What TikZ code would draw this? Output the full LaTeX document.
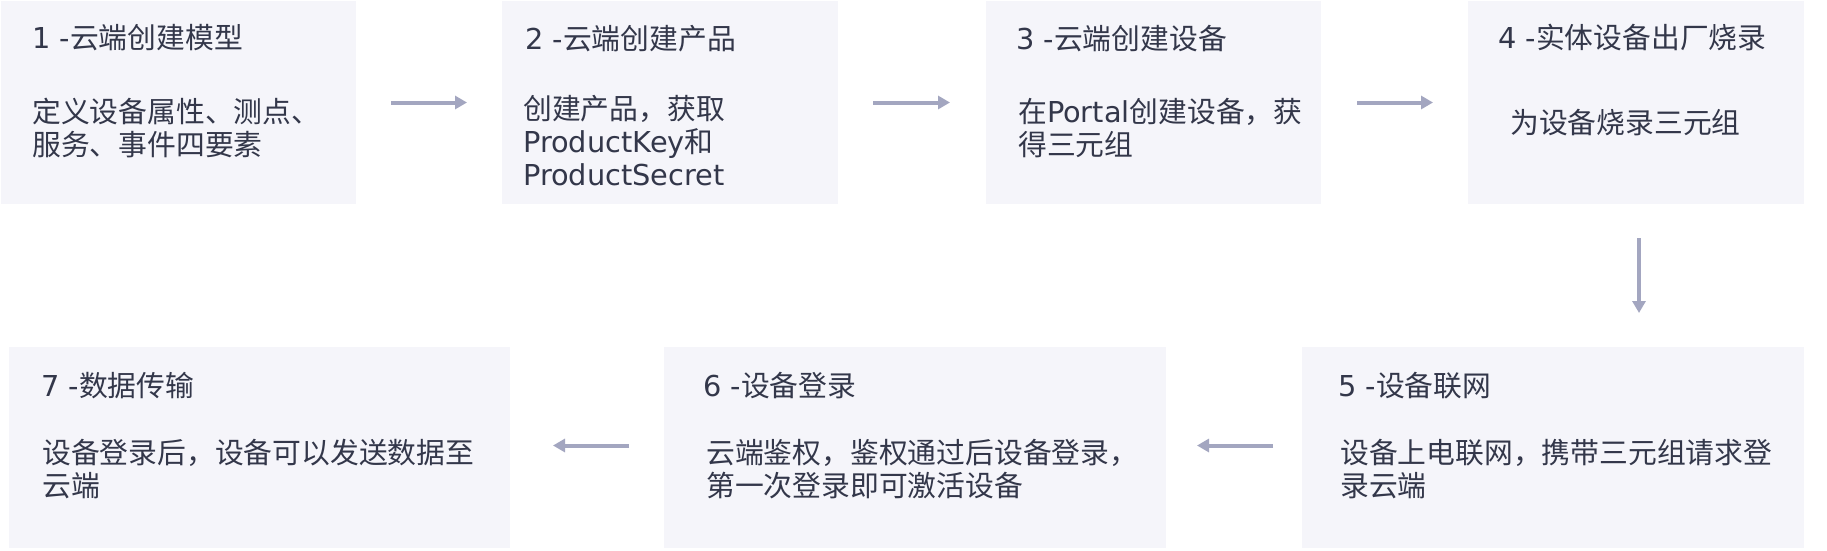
\documentclass[tikz,border=0pt]{standalone}
\usepackage{fontspec}
\setmainfont{Noto Sans CJK SC}
\newfontfamily\lat{DejaVu Sans}
\usetikzlibrary{arrows.meta}
\definecolor{boxfill}{HTML}{F5F5FA}
\definecolor{txtcol}{HTML}{33374A}
\definecolor{arrcol}{HTML}{A3A6C0}
\newcommand{\fstrut}{\rule{0pt}{26pt}}
\tikzset{
  stepbox/.style={fill=boxfill, draw=none, anchor=north west, inner sep=0pt, outer sep=0pt},
  ttl/.style={anchor=base west, inner sep=0pt, text=txtcol, font=\fontsize{28.8}{33}\selectfont},
  bodytxt/.style={anchor=north west, inner sep=0pt, align=left, text=txtcol, font=\fontsize{28.8}{33}\selectfont},
  flow/.style={draw=arrcol, line width=4pt, -{Triangle[length=12pt,width=13pt]}},
}
\begin{document}
\begin{tikzpicture}[x=1pt,y=-1pt]
\useasboundingbox[fill=white] (0,0) rectangle (1827,550);
% boxes
\node[stepbox, minimum width=355pt, minimum height=203pt] (b1) at (1,1) {};
\node[stepbox, minimum width=336pt, minimum height=203pt] (b2) at (502,1) {};
\node[stepbox, minimum width=335pt, minimum height=203pt] (b3) at (986,1) {};
\node[stepbox, minimum width=336pt, minimum height=203pt] (b4) at (1468,1) {};
\node[stepbox, minimum width=502pt, minimum height=201pt] (b5) at (1302,347) {};
\node[stepbox, minimum width=502pt, minimum height=201pt] (b6) at (664,347) {};
\node[stepbox, minimum width=501pt, minimum height=201pt] (b7) at (9,347) {};
% titles
\node[ttl] (t1) at (32,48) {{\lat 1 -}云端创建模型};
\node[ttl] (t2) at (525,49) {{\lat 2 -}云端创建产品};
\node[ttl] (t3) at (1016,49) {{\lat 3 -}云端创建设备};
\node[ttl] (t4) at (1498,48) {{\lat 4 -}实体设备出厂烧录};
\node[ttl] (t5) at (1338,396) {{\lat 5 -}设备联网};
\node[ttl] (t6) at (703,396) {{\lat 6 -}设备登录};
\node[ttl] (t7) at (41,396) {{\lat 7 -}数据传输};
% bodies
\node[bodytxt] (d1) at (32,96.5) {\fstrut 定义设备属性、测点、\\服务、事件四要素};
\node[bodytxt] (d2) at (523,93) {\fstrut 创建产品，获取\\{\lat ProductKey}和\\{\lat ProductSecret}};
\node[bodytxt] (d3) at (1018,96.5) {\fstrut 在{\lat Portal}创建设备，获\\得三元组};
\node[bodytxt] (d4) at (1510,107) {\fstrut 为设备烧录三元组};
\node[bodytxt] (d5) at (1340,437.5) {\fstrut 设备上电联网，携带三元组请求登\\录云端};
\node[bodytxt] (d6) at (706,437.5) {\fstrut 云端鉴权，鉴权通过后设备登录，\\第一次登录即可激活设备};
\node[bodytxt] (d7) at (42,437.5) {\fstrut 设备登录后，设备可以发送数据至\\云端};
% connectors
\draw[flow, shorten <=35pt, shorten >=35pt] (b1.east) -- (b2.west);
\draw[flow, shorten <=35pt, shorten >=36pt] (b2.east) -- (b3.west);
\draw[flow, shorten <=36pt, shorten >=35pt] (b3.east) -- (b4.west);
\draw[flow, shorten <=34pt, shorten >=34pt] ([xshift=3pt]b4.south) -- ([xshift=86pt]b5.north);
\draw[flow, shorten <=29pt, shorten >=31pt] ([yshift=2pt]b5.west) -- ([yshift=2pt]b6.east);
\draw[flow, shorten <=35pt, shorten >=43pt] ([yshift=2pt]b6.west) -- ([yshift=2pt]b7.east);
\end{tikzpicture}
\end{document}
